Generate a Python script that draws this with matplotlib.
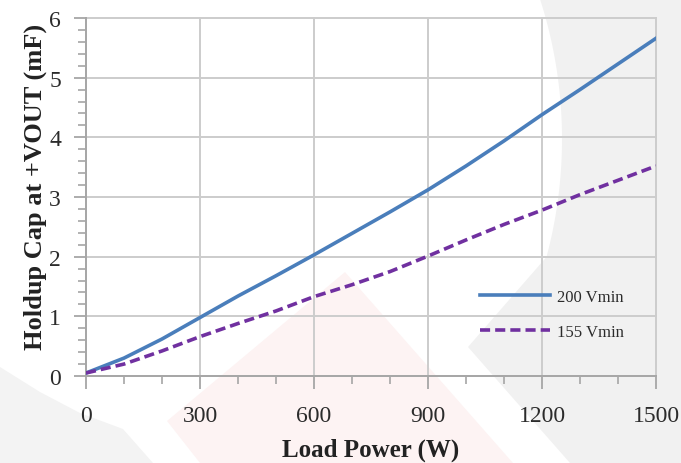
import numpy as np
import matplotlib.pyplot as plt
from matplotlib.patches import Polygon
from matplotlib.ticker import MultipleLocator

# Data
power = [0, 100, 200, 300, 400, 500, 600, 700, 800, 900, 1000, 1100, 1200, 1300, 1400, 1500]
cap_200v = [0.05, 0.30, 0.62, 0.98, 1.34, 1.68, 2.03, 2.39, 2.75, 3.12, 3.52, 3.94, 4.38, 4.80, 5.23, 5.66]
cap_155v = [0.05, 0.20, 0.42, 0.66, 0.88, 1.09, 1.33, 1.53, 1.75, 2.01, 2.28, 2.54, 2.78, 3.04, 3.28, 3.52]
series_labels = ['200 Vmin', '155 Vmin']
x_ticks = [0, 300, 600, 900, 1200, 1500]
y_ticks = [0, 1, 2, 3, 4, 5, 6]

W, H = 681, 464
fig = plt.figure(figsize=(W / 100, H / 100), dpi=100)
fig.patch.set_facecolor('white')


def to_fig(points):
    # pixel coords (top-left origin) -> figure fraction
    return [(x / W, 1 - y / H) for x, y in points]


# faint watermark shapes in the background
theta = np.linspace(np.arcsin(-140 / 456), np.arcsin(118 / 456), 40)
arc = [(106 + 456 * np.cos(t), 140 + 456 * np.sin(t)) for t in theta]
right_gray = arc + [(468, 348), (570, 464), (681, 464), (681, 0)]
left_gray = [(0, 368), (40, 393), (80, 414), (123, 430), (153, 464), (0, 464)]
pink = [(345, 273), (513, 464), (200, 464), (167, 422)]
for pts, col in [(right_gray, '#f1f1f1'), (left_gray, '#f3f3f3'), (pink, '#fdf3f3')]:
    fig.add_artist(Polygon(to_fig(pts), closed=True, facecolor=col, edgecolor='none',
                           transform=fig.transFigure, zorder=-5))

plt.rcParams['font.family'] = ['Liberation Serif', 'DejaVu Serif']

ax = fig.add_axes([86 / W, 1 - 377 / H, 570 / W, 358 / H])
ax.set_facecolor('none')

ax.plot(power, cap_200v, color='#4a7ebb', lw=2.6, label=series_labels[0], zorder=3)
ax.plot(power, cap_155v, color='#7030a0', lw=2.6, dashes=(2.8, 1.4), label=series_labels[1], zorder=3)

ax.set_xlim(0, 1500)
ax.set_ylim(0, 6)
ax.set_xticks(x_ticks)
ax.set_yticks(y_ticks)
ax.xaxis.set_minor_locator(MultipleLocator(100))
ax.yaxis.set_minor_locator(MultipleLocator(0.2))

ax.grid(True, which='major', color='#cccccc', lw=1.4, zorder=0)
for gl in ax.get_xgridlines() + ax.get_ygridlines():
    gl.set_clip_on(False)

for side in ['top', 'right']:
    ax.spines[side].set_visible(False)
for side in ['left', 'bottom']:
    ax.spines[side].set_color('#a6a6a6')
    ax.spines[side].set_linewidth(1.4)

ax.tick_params(which='major', direction='out', length=9, width=1.3, color='#a6a6a6',
               labelsize=17, labelcolor='#2b2b2b')
ax.tick_params(which='minor', direction='out', length=5.5, width=1.2, color='#a6a6a6')
ax.tick_params(axis='x', which='major', pad=12)
ax.tick_params(axis='y', which='major', pad=9)

ax.set_xlabel('Load Power (W)', fontsize=18, fontweight='bold', color='#222222')
ax.xaxis.set_label_coords(0.5, -0.172)
ax.set_ylabel('Holdup Cap at +VOUT (mF)', fontsize=19, fontweight='bold', color='#222222')
ax.yaxis.set_label_coords(-0.068, 0.53)

leg = ax.legend(loc='center left', bbox_to_anchor=(0.691, 0.172), frameon=False,
                fontsize=12, handlelength=4.2, handletextpad=0.4, labelspacing=1.15,
                borderpad=0, borderaxespad=0)
for t in leg.get_texts():
    t.set_color('#2b2b2b')

fig.savefig('out.png', dpi=100)
